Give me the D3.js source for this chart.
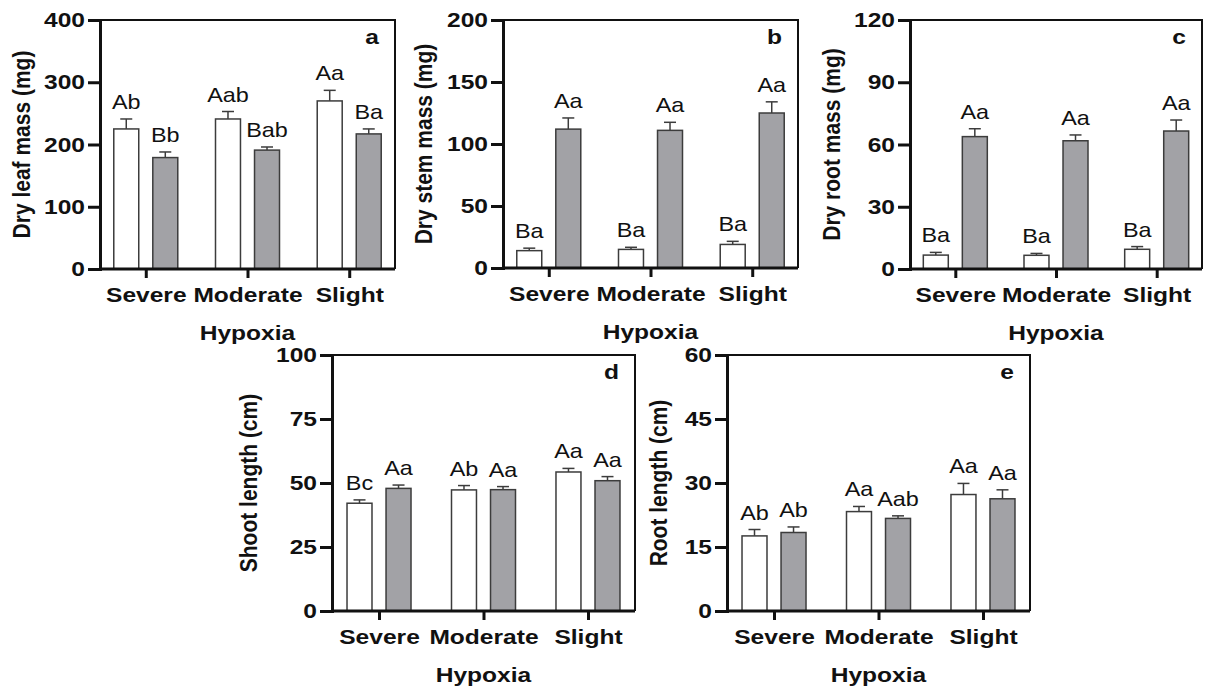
<!DOCTYPE html>
<html>
<head>
<meta charset="utf-8">
<script src="https://cdn.jsdelivr.net/npm/d3@7"></script>
<style>
  body { margin: 0; background: #fff; }
  svg { display: block; font-family: "Liberation Sans", Arial, sans-serif; }
</style>
</head>
<body>
<svg id="chart" width="1207" height="689"></svg>
<script>
// hypoxia levels on the x axis
const groups = ["Severe", "Moderate", "Slight"];

// a - dry leaf mass
const leafTicks = [0, 100, 200, 300, 400];
const leafWhite = [225, 241, 270];
const leafWhiteErr = [16, 12, 17];
const leafGray = [179, 191, 217];
const leafGrayErr = [9, 5, 8];
const leafWhiteLetters = ["Ab", "Aab", "Aa"];
const leafGrayLetters = ["Bb", "Bab", "Ba"];

// b - dry stem mass
const stemTicks = [0, 50, 100, 150, 200];
const stemWhite = [14, 15, 19];
const stemWhiteErr = [2, 1.7, 2.5];
const stemGray = [112, 111, 125];
const stemGrayErr = [9, 6.5, 9];
const stemWhiteLetters = ["Ba", "Ba", "Ba"];
const stemGrayLetters = ["Aa", "Aa", "Aa"];

// c - dry root mass
const rootTicks = [0, 30, 60, 90, 120];
const rootWhite = [6.7, 6.6, 9.5];
const rootWhiteErr = [1.3, 0.9, 1.3];
const rootGray = [63.8, 61.8, 66.5];
const rootGrayErr = [3.8, 2.8, 5.3];
const rootWhiteLetters = ["Ba", "Ba", "Ba"];
const rootGrayLetters = ["Aa", "Aa", "Aa"];

// d - shoot length
const shootTicks = [0, 25, 50, 75, 100];
const shootWhite = [42.1, 47.3, 54.3];
const shootWhiteErr = [1.3, 1.7, 1.4];
const shootGray = [47.9, 47.4, 50.9];
const shootGrayErr = [1.3, 1.2, 1.6];
const shootWhiteLetters = ["Bc", "Ab", "Aa"];
const shootGrayLetters = ["Aa", "Aa", "Aa"];

// e - root length
const rlenTicks = [0, 15, 30, 45, 60];
const rlenWhite = [17.6, 23.3, 27.3];
const rlenWhiteErr = [1.5, 1.2, 2.6];
const rlenGray = [18.4, 21.7, 26.3];
const rlenGrayErr = [1.3, 0.6, 2.1];
const rlenWhiteLetters = ["Ab", "Aa", "Aa"];
const rlenGrayLetters = ["Ab", "Aab", "Aa"];

const panels = [
  {id: "a", title: "Dry leaf mass (mg)", ticks: leafTicks, white: leafWhite, whiteErr: leafWhiteErr,
   gray: leafGray, grayErr: leafGrayErr, wl: leafWhiteLetters, gl: leafGrayLetters,
   box: {l: 100, t: 20, r: 395, b: 269}, titleOff: 70},
  {id: "b", title: "Dry stem mass (mg)", ticks: stemTicks, white: stemWhite, whiteErr: stemWhiteErr,
   gray: stemGray, grayErr: stemGrayErr, wl: stemWhiteLetters, gl: stemGrayLetters,
   box: {l: 503, t: 20, r: 798, b: 268}, titleOff: 71},
  {id: "c", title: "Dry root mass (mg)", ticks: rootTicks, white: rootWhite, whiteErr: rootWhiteErr,
   gray: rootGray, grayErr: rootGrayErr, wl: rootWhiteLetters, gl: rootGrayLetters,
   box: {l: 910, t: 20, r: 1202, b: 269}, titleOff: 70},
  {id: "d", title: "Shoot length (cm)", ticks: shootTicks, white: shootWhite, whiteErr: shootWhiteErr,
   gray: shootGray, grayErr: shootGrayErr, wl: shootWhiteLetters, gl: shootGrayLetters,
   box: {l: 332, t: 355, r: 635, b: 611}, titleOff: 75},
  {id: "e", title: "Root length (cm)", ticks: rlenTicks, white: rlenWhite, whiteErr: rlenWhiteErr,
   gray: rlenGray, grayErr: rlenGrayErr, wl: rlenWhiteLetters, gl: rlenGrayLetters,
   box: {l: 727, t: 355, r: 1030, b: 611}, titleOff: 60}
];

const svg = d3.select("#chart");
const ink = "#111";
const barStroke = "#3c3c3c";
const grayFill = "#a2a2a6";
const sx = 1.17; // the figure's lettering is a little wider than plain Arial

// move x/y into a transform so the glyphs can be widened
function widen(sel, s) {
  sel.each(function() {
    let t = d3.select(this);
    let x = +t.attr("x") || 0, y = +t.attr("y") || 0;
    t.attr("x", 0).attr("y", 0)
      .attr("transform", "translate(" + x + "," + y + ") scale(" + s + ",1)");
  });
}

panels.forEach(function(p) {
  let b = p.box;
  let g = svg.append("g");

  let x = d3.scalePoint().domain(groups).range([b.l, b.r]).padding(0.45);
  let xSub = d3.scaleBand().domain(["white", "gray"]).range([-32, 32]).paddingInner(0.36);
  let y = d3.scaleLinear().domain([p.ticks[0], p.ticks[p.ticks.length - 1]]).range([b.b, b.t]);

  let rows = [];
  groups.forEach(function(grp, i) {
    rows.push({grp: grp, key: "white", v: p.white[i], e: p.whiteErr[i], lab: p.wl[i]});
    rows.push({grp: grp, key: "gray", v: p.gray[i], e: p.grayErr[i], lab: p.gl[i]});
  });
  let cx = d => x(d.grp) + xSub(d.key) + xSub.bandwidth() / 2;

  // frame top + right
  g.append("path")
    .attr("d", "M" + b.l + "," + b.t + "H" + b.r + "V" + b.b)
    .attr("fill", "none").attr("stroke", ink).attr("stroke-width", 2);

  // error bars (upper only)
  let err = g.selectAll(".err").data(rows).enter().append("g");
  err.append("line")
    .attr("x1", cx).attr("x2", cx)
    .attr("y1", d => y(d.v)).attr("y2", d => y(d.v + d.e))
    .attr("stroke", barStroke).attr("stroke-width", 1.5);
  err.append("line")
    .attr("x1", d => cx(d) - 6).attr("x2", d => cx(d) + 6)
    .attr("y1", d => y(d.v + d.e)).attr("y2", d => y(d.v + d.e))
    .attr("stroke", barStroke).attr("stroke-width", 1.5);

  // bars
  g.selectAll(".bar").data(rows).enter().append("rect")
    .attr("x", d => x(d.grp) + xSub(d.key))
    .attr("width", xSub.bandwidth())
    .attr("y", d => y(d.v))
    .attr("height", d => y(0) - y(d.v))
    .attr("fill", d => d.key === "white" ? "#fff" : grayFill)
    .attr("stroke", barStroke).attr("stroke-width", 1.5);

  // significance letters
  g.selectAll(".lab").data(rows).enter().append("text")
    .attr("x", cx)
    .attr("y", d => y(d.v + d.e) - 10)
    .attr("text-anchor", "middle")
    .attr("font-size", "20px")
    .attr("fill", ink)
    .text(d => d.lab)
    .call(widen, sx);

  // y axis
  let yAxis = g.append("g")
    .attr("transform", "translate(" + b.l + ",0)")
    .call(d3.axisLeft(y).tickValues(p.ticks).tickSize(12).tickPadding(3).tickFormat(d3.format("d")));
  yAxis.selectAll("path, line").attr("stroke", ink).attr("stroke-width", 3);
  yAxis.selectAll("text").attr("font-size", "21px").attr("font-weight", "bold")
    .attr("fill", ink).attr("font-family", "'Liberation Sans', Arial, sans-serif")
    .call(widen, sx);

  // x axis
  let xAxis = g.append("g")
    .attr("transform", "translate(0," + b.b + ")")
    .call(d3.axisBottom(x).tickSize(9).tickSizeOuter(0).tickPadding(3));
  xAxis.select(".domain").attr("d", "M" + b.l + ",0H" + b.r);
  xAxis.selectAll("path, line").attr("stroke", ink).attr("stroke-width", 3);
  xAxis.selectAll("text").attr("font-size", "21px").attr("font-weight", "bold")
    .attr("fill", ink).attr("font-family", "'Liberation Sans', Arial, sans-serif")
    .attr("y", 33).attr("dy", null)
    .call(widen, sx);

  // x title
  g.append("text")
    .attr("x", (b.l + b.r) / 2).attr("y", b.b + 71)
    .attr("text-anchor", "middle")
    .attr("font-size", "21px").attr("font-weight", "bold").attr("fill", ink)
    .text("Hypoxia")
    .call(widen, sx);

  // y title
  g.append("text")
    .attr("transform", "translate(" + (b.l - p.titleOff) + "," + ((b.t + b.b) / 2) + ") scale(" + sx + ",1) rotate(-90)")
    .attr("text-anchor", "middle")
    .attr("font-size", "21px").attr("font-weight", "bold").attr("fill", ink)
    .text(p.title);

  // panel letter
  g.append("text")
    .attr("x", b.r - 16).attr("y", b.t + 24)
    .attr("text-anchor", "end")
    .attr("font-size", "21px").attr("font-weight", "bold").attr("fill", ink)
    .text(p.id)
    .call(widen, sx);
});
</script>
</body>
</html>
